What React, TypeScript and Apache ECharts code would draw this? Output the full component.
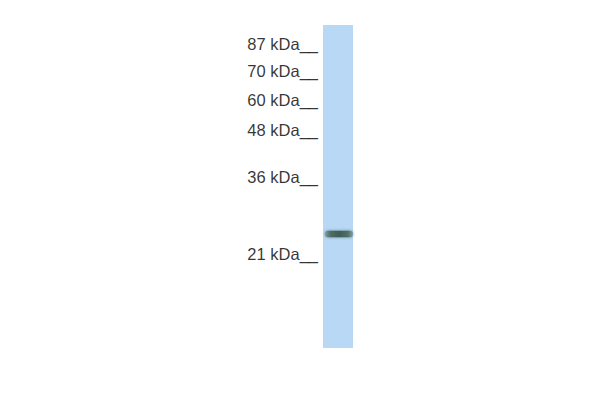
import React, { useEffect, useRef } from "react";
import * as echarts from "echarts";

// Lane(s) of the blot
const lanes = ["Lane 1"];
// Marker ladder (kDa) and their migration distance (% of lane length)
const markerLabels = ["87 kDa__", "70 kDa__", "60 kDa__", "48 kDa__", "36 kDa__", "21 kDa__"];
const markerMigration = [5.8, 14.2, 23.2, 32.5, 47.1, 70.9];
// Detected band(s): migration (% of lane) and thickness (% of lane)
const bandMigration = [64.7];
const bandThickness = [2.0];
const laneLength = [100];

export default function App() {
  const ref = useRef<HTMLDivElement>(null);
  useEffect(() => {
    document.body.style.margin = "0";
    const chart = echarts.init(ref.current!, null, { renderer: "svg" });
    chart.setOption({
      animation: false,
      backgroundColor: "#ffffff",
      grid: { left: 323, width: 30, top: 25, bottom: 52 },
      xAxis: {
        type: "category",
        data: lanes,
        show: false,
      },
      yAxis: {
        type: "value",
        min: 0,
        max: 100,
        inverse: true,
        show: false,
      },
      series: [
        {
          type: "bar",
          data: laneLength,
          barWidth: "100%",
          itemStyle: { color: "#b9d8f6" },
          silent: true,
          z: 1,
        },
        {
          type: "scatter",
          data: markerMigration.map((v, i) => ({ value: [0, v], name: markerLabels[i] })),
          symbolSize: 0,
          z: 3,
          label: {
            show: true,
            position: "left",
            distance: 20,
            formatter: (p: any) => p.name,
            fontFamily: "Liberation Sans, Arial, sans-serif",
            fontSize: 16.5,
            color: "#000000",
          },
        },
        {
          type: "custom",
          z: 5,
          encode: { x: 0, y: 1 },
          data: bandMigration.map((v, i) => [0, v, bandThickness[i]]),
          renderItem: (params: any, api: any) => {
            const v = api.value(1);
            const t = api.value(2);
            const top = api.coord([0, v - t / 2]);
            const bottom = api.coord([0, v + t / 2]);
            const cx = top[0];
            const w = 28;
            const h = Math.abs(bottom[1] - top[1]);
            return {
              type: "rect",
              shape: { x: cx - w / 2 + 1, y: Math.min(top[1], bottom[1]), width: w, height: h, r: h / 2 },
              style: {
                fill: new echarts.graphic.LinearGradient(0, 0, 1, 0, [
                  { offset: 0, color: "#7f9ea0" },
                  { offset: 0.2, color: "#4f6d66" },
                  { offset: 0.5, color: "#405d56" },
                  { offset: 0.8, color: "#4f6d66" },
                  { offset: 1, color: "#7f9ea0" },
                ]),
                shadowBlur: 3,
                shadowColor: "rgba(60,90,85,0.6)",
              },
            };
          },
        },
      ],
    });
    return () => chart.dispose();
  }, []);
  return <div ref={ref} style={{ width: 600, height: 400 }} />;
}
